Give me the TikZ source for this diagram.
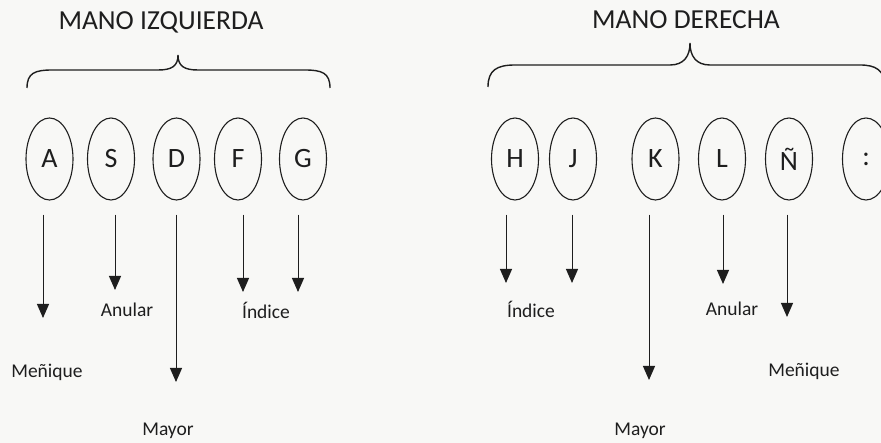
\documentclass[tikz,border=0pt]{standalone}
\usepackage{fontspec}
\setmainfont{Carlito}
\usetikzlibrary{shapes.geometric,arrows.meta}
\definecolor{ink}{HTML}{1E1E1E}
\definecolor{paper}{HTML}{F8F8F6}
\tikzset{
  key/.style={ellipse, draw=ink, line width=1.1pt, minimum width=47pt,
    minimum height=82pt, inner sep=0pt, text=ink, font=\fontsize{28}{32}\selectfont},
  title/.style={text=ink, font=\fontsize{27.5}{32}\selectfont, inner sep=0pt},
  finger/.style={text=ink, font=\fontsize{19.5}{22}\selectfont, inner sep=0pt},
  fingerarrow/.style={draw=ink, line width=1pt, shorten <=14pt,
    -{Triangle[width=12pt,length=14pt]}},
  brace/.style={draw=ink, line width=1.4pt}
}
\begin{document}
\begin{tikzpicture}[x=1pt,y=-1pt]
  \fill[paper] (0,0) rectangle (881,443);
  \useasboundingbox (0,0) rectangle (881,443);

  % headings
  \node[title] (tL) at (161,22) {MANO IZQUIERDA};
  \node[title] (tR) at (686,20) {MANO DERECHA};

  % braces under the headings
  \draw[brace] (27,88) .. controls (27,73) and (35,70) .. (52,70)
    -- (158,70) .. controls (172,70) and (178,66) .. (178,55)
    .. controls (178,66) and (184,70) .. (198,70)
    -- (305,70) .. controls (322,70) and (330,73) .. (330,88);
  \draw[brace] (488,87) .. controls (488,70) and (497,65) .. (515,65)
    -- (670,65) .. controls (684,65) and (690,56) .. (690,43)
    .. controls (690,56) and (696,65) .. (710,65)
    -- (860,65) .. controls (876,65) and (884,70) .. (886,87);

  % home-row keys, left hand
  \node[key] (A) at (49.5,159) {A};
  \node[key] (S) at (111,159) {S};
  \node[key] (D) at (176.5,159) {D};
  \node[key] (F) at (238,159) {F};
  \node[key] (G) at (303,159) {G};
  % home-row keys, right hand
  \node[key] (H) at (515,159) {H};
  \node[key] (J) at (573,159) {J};
  \node[key] (K) at (655.5,159) {K};
  \node[key] (L) at (722,159) {L};
  \node[key] (N) at (789,159) {Ñ};
  \node[key] (C) at (866,159) {:};

  % arrow tips
  \coordinate (aA) at (43,318);
  \coordinate (aS) at (115,290);
  \coordinate (aD) at (176,382);
  \coordinate (aF) at (243,292);
  \coordinate (aG) at (298,292);
  \coordinate (aH) at (506,283);
  \coordinate (aJ) at (572,283);
  \coordinate (aK) at (649,380);
  \coordinate (aL) at (723,284);
  \coordinate (aN) at (787,317);

  \foreach \k in {A,S,D,F,G,H,J,K,L,N}
    \draw[fingerarrow] (\k.south -| a\k) -- (a\k);

  % finger names
  \node[finger] (mL) at (47,372) {Meñique};
  \node[finger] (anL) at (127,310) {Anular};
  \node[finger] (iL) at (266,310) {Índice};
  \node[finger] (myL) at (168,431) {Mayor};
  \node[finger] (iR) at (531,309) {Índice};
  \node[finger] (anR) at (732,309) {Anular};
  \node[finger] (mR) at (804,371) {Meñique};
  \node[finger] (myR) at (640,431) {Mayor};
\end{tikzpicture}
\end{document}
